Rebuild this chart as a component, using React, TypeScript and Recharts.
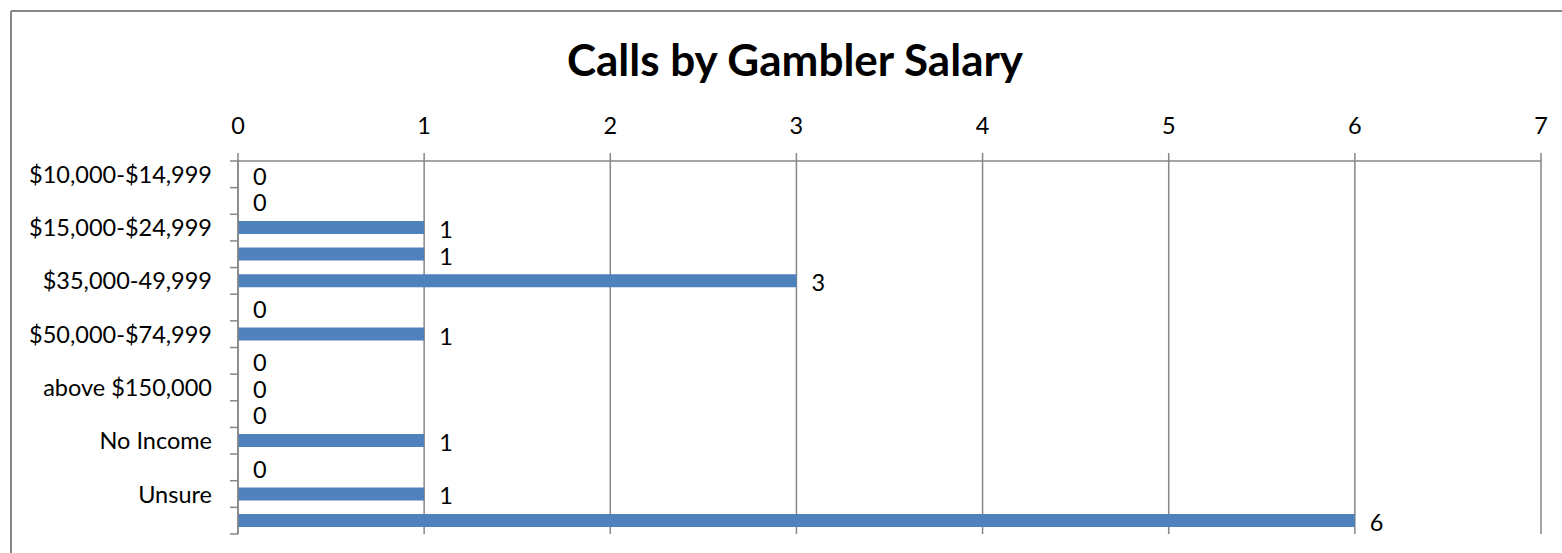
import React from 'react';
import {
  ComposedChart, Bar, Line, XAxis, YAxis, CartesianGrid, LabelList,
} from 'recharts';

// Calls by Gambler Salary - Excel-style horizontal bar chart

const categories = [
  '$10,000-$14,999',
  '$100,000-$149,999',
  '$15,000-$24,999',
  '$25,000-$34,999',
  '$35,000-49,999',
  '$5,000-$9,999',
  '$50,000-$74,999',
  '$75,000-$99,999',
  'above $150,000',
  'Less than $5,000',
  'No Income',
  'Refused',
  'Unsure',
  '(blank)',
];

const calls = [0, 0, 1, 1, 3, 0, 1, 0, 0, 0, 1, 0, 1, 6];

const xTicks = [0, 1, 2, 3, 4, 5, 6, 7];

// rows that Excel leaves unlabeled on the category axis
const hiddenLabels = ['$100,000-$149,999', '$25,000-$34,999', '$5,000-$9,999',
  '$75,000-$99,999', 'Less than $5,000', 'Refused', '(blank)'];

const W = 1562;
const H = 553;
const FONT = 'Lato, "Open Sans", sans-serif';
const FS = 23.5;
const AXIS = '#868686';
const BAR = '#4F81BD';

const data = categories.map((name, i) => ({ name, calls: calls[i] }));

function CategoryTick(props: any) {
  const { x, y, payload, index } = props;
  const axisX = x + 26;
  const half = payload?.offset ?? 0;
  const showLabel = !hiddenLabels.includes(payload.value);
  return (
    <g>
      {showLabel && (
        <text x={x} y={y} dy={8.5} textAnchor="end" fontSize={FS} fill="#000" fontFamily={FONT}>
          {payload.value}
        </text>
      )}
      {index === 0 && (
        <line x1={axisX - 8} x2={axisX} y1={y - half} y2={y - half} stroke={AXIS} strokeWidth={1.5} />
      )}
      <line x1={axisX - 8} x2={axisX} y1={y + half} y2={y + half} stroke={AXIS} strokeWidth={1.5} />
    </g>
  );
}

export default function App() {
  return (
    <div style={{ position: 'absolute', left: 0, top: 0, width: W, height: H, background: '#fff' }}>
      <ComposedChart
        width={W}
        height={H}
        data={data}
        layout="vertical"
        barCategoryGap="25%"
        margin={{ top: 121, right: 21, bottom: 19, left: 0 }}
      >
        <CartesianGrid horizontal={false} stroke={AXIS} strokeWidth={1.5} />
        <XAxis
          type="number"
          orientation="top"
          domain={[0, 7]}
          ticks={xTicks}
          height={40}
          tickSize={8}
          tickMargin={19}
          axisLine={{ stroke: AXIS, strokeWidth: 1.5 }}
          tickLine={{ stroke: AXIS, strokeWidth: 1.5 }}
          tick={{ fontSize: FS, fill: '#000', fontFamily: FONT }}
        />
        <YAxis
          type="category"
          dataKey="name"
          width={238}
          interval={0}
          tickSize={8}
          tickMargin={18}
          tickLine={false}
          axisLine={{ stroke: AXIS, strokeWidth: 1.5 }}
          tick={<CategoryTick />}
        />
        <Bar dataKey="calls" fill={BAR} isAnimationActive={false} />
        {/* invisible series carrying the data labels, so zero rows get a label too */}
        <Line
          dataKey="calls"
          stroke="none"
          dot={false}
          activeDot={false}
          legendType="none"
          isAnimationActive={false}
        >
          <LabelList
            dataKey="calls"
            position="right"
            offset={15}
            fontSize={FS}
            fill="#000"
            fontFamily={FONT}
            dy={2}
          />
        </Line>
      </ComposedChart>
      <svg width={W} height={H} style={{ position: 'absolute', left: 0, top: 0, pointerEvents: 'none' }}>
        <line x1={11} x2={W} y1={11} y2={11} stroke={AXIS} strokeWidth={2} />
        <line x1={11} x2={11} y1={11} y2={H} stroke={AXIS} strokeWidth={2} />
        <text x={795} y={76} textAnchor="middle" fontSize={44} fontWeight={700} fontFamily={FONT} fill="#000">
          Calls by Gambler Salary
        </text>
      </svg>
    </div>
  );
}
